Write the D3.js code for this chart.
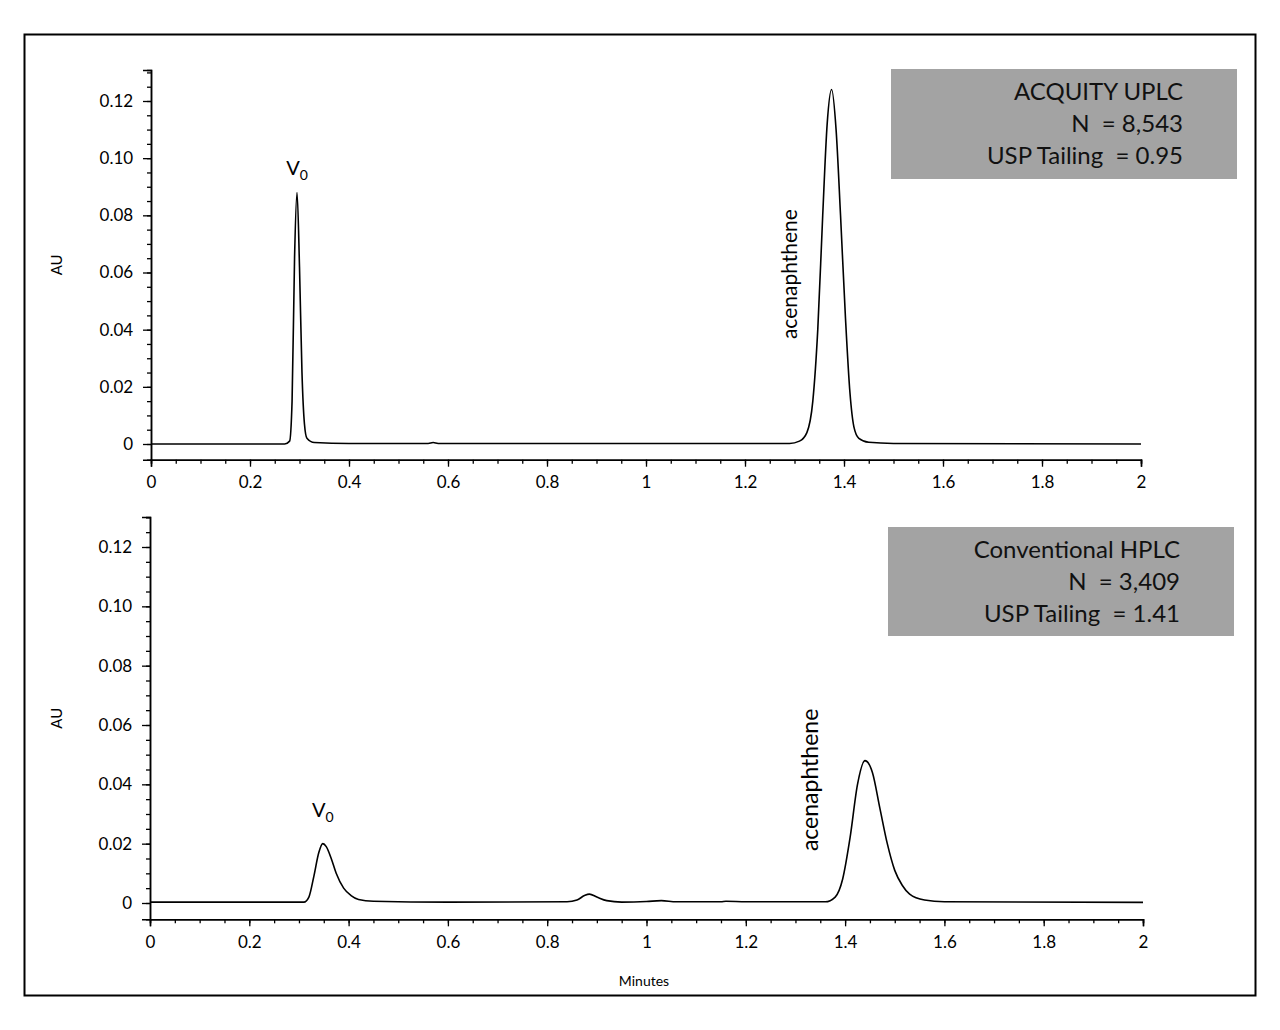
<!DOCTYPE html>
<html><head><meta charset="utf-8">
<script src="https://cdn.jsdelivr.net/npm/d3@7"></script>
<style>body{margin:0;background:#fff}</style></head>
<body><svg id="c" width="1280" height="1030"></svg>
<script>
const xTicks=[0,0.2,0.4,0.6,0.8,1,1.2,1.4,1.6,1.8,2];
const yTicks=[0,0.02,0.04,0.06,0.08,0.10,0.12];
const yTickLabels=["0","0.02","0.04","0.06","0.08","0.10","0.12"];
const uplcTrace=[[0,0],[0.27,0],[0.28,0.001],[0.285,0.015],[0.29,0.065],[0.295,0.088],[0.3,0.062],[0.305,0.025],[0.31,0.007],[0.315,0.002],[0.33,0.0005],[0.4,0.0002],[0.56,0.0002],[0.57,0.0005],[0.58,0.0002],[1.29,0.0002],[1.31,0.001],[1.325,0.004],[1.337,0.015],[1.347,0.04],[1.357,0.08],[1.366,0.112],[1.375,0.124],[1.384,0.11],[1.393,0.08],[1.403,0.044],[1.412,0.018],[1.42,0.006],[1.43,0.002],[1.45,0.0006],[1.5,0.0002],[2,0]];
const hplcTrace=[[0,0.0003],[0.31,0.0003],[0.32,0.002],[0.33,0.009],[0.34,0.017],[0.348,0.020],[0.355,0.019],[0.365,0.015],[0.375,0.01],[0.39,0.005],[0.405,0.0025],[0.42,0.0012],[0.45,0.0006],[0.6,0.0003],[0.84,0.0004],[0.86,0.001],[0.875,0.0025],[0.885,0.003],[0.9,0.002],[0.92,0.0008],[0.95,0.0003],[1.0,0.0005],[1.03,0.0008],[1.06,0.0004],[1.15,0.0004],[1.16,0.0006],[1.2,0.0004],[1.36,0.0004],[1.38,0.002],[1.395,0.008],[1.41,0.022],[1.425,0.04],[1.44,0.048],[1.455,0.044],[1.47,0.032],[1.485,0.02],[1.5,0.011],[1.515,0.006],[1.53,0.003],[1.56,0.001],[1.6,0.0004],[2,0.0002]];
const panels=[
 {trace:uplcTrace,x0:151,x1:1141,yZero:444,yTop12:101,axTop:70,legend:["ACQUITY UPLC","N\u00a0 = 8,543","USP Tailing\u00a0 = 0.95"],box:[891,69,346,110],v0:[0.295,0.094],ace:[1.305,0.0367],aceSize:21},
 {trace:hplcTrace,x0:150,x1:1143,yZero:903,yTop12:547,axTop:517,legend:["Conventional HPLC","N\u00a0 = 3,409","USP Tailing\u00a0 = 1.41"],box:[888,527,346,109],v0:[0.348,0.029],ace:[1.345,0.0175],aceSize:23}
];
const svg=d3.select("#c");
const F="Lato, 'DejaVu Sans', sans-serif";
svg.append("rect").attr("x",24.5).attr("y",34.5).attr("width",1231).attr("height",961).attr("fill","none").attr("stroke","#000").attr("stroke-width",2);
panels.forEach(p=>{
 const x=d3.scaleLinear().domain([0,2]).range([p.x0,p.x1]);
 const y=d3.scaleLinear().domain([0,0.12]).range([p.yZero,p.yTop12]);
 const yMin=y.invert(p.yZero+(p.yZero-p.yTop12)/0.12*0.0055), yMax=y.invert(p.axTop);
 const axY=y(yMin);
 const g=svg.append("g");
 const yr=y.copy().domain([yMin,yMax]).range([axY,p.axTop]);
 g.append("g").attr("transform",`translate(0,${axY})`)
  .call(d3.axisBottom(x).tickValues(d3.range(0,2.0001,0.05)).tickSize(4).tickFormat(""));
 g.append("g").attr("transform",`translate(${p.x0},0)`)
  .call(d3.axisLeft(yr).tickValues(d3.range(0,0.1301,0.005)).tickSize(4).tickFormat(""));
 const xa=g.append("g").attr("transform",`translate(0,${axY})`)
  .call(d3.axisBottom(x).tickValues(xTicks).tickSize(7).tickFormat(d3.format("")));
 xa.selectAll("text").attr("font-size",17).attr("font-family",F).attr("dy","1.1em");
 const ya=g.append("g").attr("transform",`translate(${p.x0},0)`)
  .call(d3.axisLeft(yr).tickValues(yTicks).tickSize(8).tickFormat((d,i)=>yTickLabels[i]));
 ya.selectAll("text").attr("font-size",17).attr("font-family",F).attr("dx","-0.4em");
 g.selectAll(".domain").attr("stroke-width",1.5);
 g.selectAll(".tick line").attr("stroke-width",1.3);
 g.append("text").attr("transform",`translate(62,${(p.axTop+axY)/2}) rotate(-90)`).attr("text-anchor","middle").attr("font-size",15).attr("font-family",F).text("AU");
 g.append("path").datum(p.trace).attr("fill","none").attr("stroke","#000").attr("stroke-width",1.6)
  .attr("d",d3.line().x(d=>x(d[0])).y(d=>y(d[1])).curve(d3.curveMonotoneX));
 const v=g.append("text").attr("x",x(p.v0[0])).attr("y",y(p.v0[1])).attr("text-anchor","middle").attr("font-size",20).attr("font-family",F);
 v.append("tspan").text("V");
 v.append("tspan").attr("font-size",14).attr("dy",5).text("0");
 g.append("text").attr("transform",`translate(${x(p.ace[0])},${y(p.ace[1])}) rotate(-90)`).attr("font-size",p.aceSize).attr("font-family",F).text("acenaphthene");
 const [bx,by,bw,bh]=p.box;
 g.append("rect").attr("x",bx).attr("y",by).attr("width",bw).attr("height",bh).attr("fill","#a3a3a3");
 p.legend.forEach((t,i)=>g.append("text").attr("x",bx+bw-54).attr("y",by+31+i*32).attr("text-anchor","end").attr("font-size",24).attr("font-family",F).attr("fill","#111").text(t));
});
svg.append("text").attr("x",644).attr("y",986).attr("text-anchor","middle").attr("font-size",14).attr("font-family",F).text("Minutes");
</script></body></html>
